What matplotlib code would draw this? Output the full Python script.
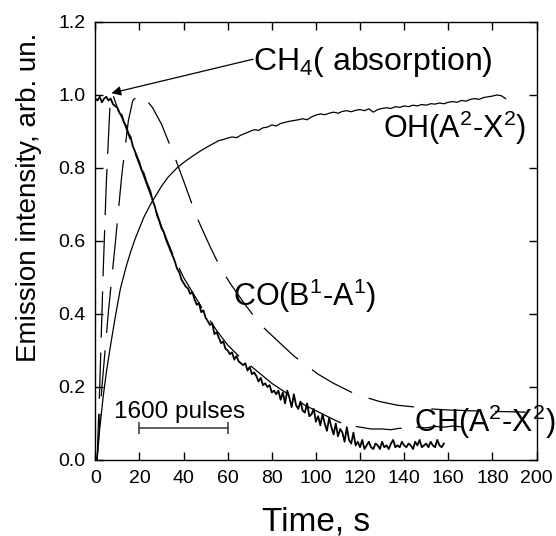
import numpy as np
import matplotlib
matplotlib.use("Agg")
import matplotlib.pyplot as plt

plt.rcParams['font.family'] = ['Liberation Sans', 'DejaVu Sans']
plt.rcParams['mathtext.fontset'] = 'custom'
plt.rcParams['mathtext.rm'] = 'Liberation Sans'
plt.rcParams['mathtext.it'] = 'Liberation Sans:italic'

# CH4 absorption, 1 s sampling from 0 to 158 s (noisy record)
ch4_t = np.arange(0, 159)
ch4_v = [0.99, 0.985, 0.995, 0.98, 0.99, 0.995, 0.985, 0.99, 0.975, 0.97,
         0.965, 0.95, 0.945, 0.925, 0.915, 0.895, 0.885, 0.86, 0.845, 0.83,
         0.815, 0.795, 0.785, 0.765, 0.75, 0.735, 0.71, 0.695, 0.67, 0.655,
         0.635, 0.625, 0.605, 0.59, 0.575, 0.56, 0.545, 0.525, 0.515, 0.495,
         0.485, 0.475, 0.47, 0.455, 0.46, 0.44, 0.425, 0.43, 0.405, 0.41,
         0.39, 0.38, 0.37, 0.375, 0.345, 0.35, 0.335, 0.32, 0.325, 0.305,
         0.30, 0.29, 0.295, 0.275, 0.285, 0.27, 0.265, 0.26, 0.265, 0.245,
         0.255, 0.235, 0.24, 0.23, 0.215, 0.225, 0.205, 0.21, 0.2, 0.205,
         0.185, 0.19, 0.18, 0.19, 0.165, 0.185, 0.155, 0.19, 0.17, 0.145,
         0.18, 0.15, 0.14, 0.16, 0.135, 0.13, 0.155, 0.12, 0.125, 0.14,
         0.105, 0.12, 0.095, 0.125, 0.1, 0.08, 0.115, 0.09, 0.07, 0.1,
         0.065, 0.085, 0.075, 0.05, 0.09, 0.055, 0.045, 0.075, 0.04, 0.05,
         0.035, 0.055, 0.03, 0.04, 0.05, 0.035, 0.03, 0.045, 0.04, 0.03,
         0.05, 0.035, 0.04, 0.03, 0.045, 0.055, 0.035, 0.04, 0.035, 0.05,
         0.04, 0.035, 0.045, 0.04, 0.03, 0.05, 0.04, 0.055, 0.035, 0.04,
         0.045, 0.035, 0.05, 0.04, 0.035, 0.055, 0.04, 0.035, 0.045]

# CH(A2-X2) emission
ch_t = [0.8, 2, 3.6, 5, 6.8, 8, 10, 13, 16, 19, 22.7, 26, 30, 35, 40, 45, 50, 55,
        60, 65, 70, 75, 80, 85, 90, 95, 100, 105, 110, 115, 120, 125, 130, 134,
        138, 142, 146, 150, 154, 158, 162, 166, 169]
ch_v = [0.0, 0.2, 0.52, 0.76, 0.99, 1.0, 0.965, 0.925, 0.875, 0.825, 0.765, 0.71,
        0.64, 0.565, 0.5, 0.45, 0.4, 0.355, 0.315, 0.285, 0.26, 0.235, 0.21, 0.19,
        0.17, 0.15, 0.135, 0.12, 0.105, 0.095, 0.09, 0.085, 0.085, 0.083, 0.087,
        0.085, 0.09, 0.088, 0.092, 0.09, 0.093, 0.091, 0.093]

# CO(B1-A1) emission
co_t = [0.8, 3, 6, 9, 12, 15, 17, 19.5, 22, 26, 30, 33, 36, 40, 46, 52, 56, 61,
        68, 75, 82, 90, 101, 108, 118, 129, 137, 145, 152, 160, 170, 180, 190, 195]
co_v = [0.0, 0.2, 0.41, 0.59, 0.78, 0.93, 0.985, 1.0, 0.995, 0.965, 0.92, 0.875,
        0.83, 0.765, 0.665, 0.585, 0.535, 0.485, 0.425, 0.37, 0.33, 0.285, 0.235,
        0.21, 0.18, 0.16, 0.15, 0.145, 0.14, 0.137, 0.135, 0.133, 0.132, 0.131]

# OH(A2-X2) emission
oh_t = [0.8, 2, 3.6, 5, 6.8, 9, 11.4, 14, 16, 18, 20, 22, 25, 28, 30, 33, 37, 40,
        44, 48, 52, 56, 58, 60, 62, 64, 66, 68, 70, 72, 74, 76, 78, 80, 82, 84,
        86, 88, 90, 92, 94, 96, 98, 100, 102, 104, 106, 108, 110, 112, 114, 116,
        118, 120, 122, 124, 126, 128, 130, 132, 134, 136, 138, 140, 142, 144,
        146, 148, 150, 152, 154, 156, 158, 160, 162, 164, 166, 168, 170, 172,
        174, 176, 178, 180, 182, 184, 186]
oh_v = [0.0, 0.085, 0.175, 0.24, 0.31, 0.39, 0.47, 0.53, 0.57, 0.605, 0.635,
        0.665, 0.70, 0.73, 0.75, 0.775, 0.80, 0.815, 0.832, 0.848, 0.862, 0.875,
        0.878, 0.882, 0.885, 0.883, 0.89, 0.895, 0.9, 0.905, 0.903, 0.91, 0.912,
        0.918, 0.915, 0.922, 0.925, 0.928, 0.93, 0.932, 0.935, 0.932, 0.94,
        0.945, 0.948, 0.946, 0.95, 0.953, 0.95, 0.955, 0.957, 0.954, 0.958,
        0.96, 0.957, 0.962, 0.953, 0.96, 0.963, 0.965, 0.963, 0.968, 0.966,
        0.97, 0.968, 0.972, 0.97, 0.974, 0.972, 0.976, 0.975, 0.978, 0.976,
        0.98, 0.982, 0.98, 0.985, 0.983, 0.988, 0.99, 0.988, 0.993, 0.995,
        0.997, 1.0, 0.998, 0.99]

pulse_bar = [20, 60]   # 1600 pulses scale bar, s

fig = plt.figure(figsize=(5.56, 5.36), dpi=100)
ax = fig.add_axes([0.1714, 0.1418, 0.7936, 0.8172])

ax.plot(ch4_t, ch4_v, color='black', lw=1.3)
ax.plot(ch_t, ch_v, color='black', lw=0.9, dashes=(37, 12))
ax.plot(co_t, co_v, color='black', lw=0.9, dashes=(37, 14))
ax.plot(oh_t, oh_v, color='black', lw=0.9)

# scale bar
ax.plot(pulse_bar, [0.088, 0.088], color='#444444', lw=1.2,
        marker='|', markersize=9, markeredgewidth=1.2)
ax.text(8.5, 0.115, '1600 pulses', fontsize=17.5, ha='left', va='baseline')

# labels on curves
ax.annotate('', xy=(7.3, 1.005), xytext=(71.5, 1.098),
            arrowprops=dict(arrowstyle='-|>', color='black', lw=0.9,
                            mutation_scale=14, shrinkA=0, shrinkB=0))
ax.text(71.7, 1.069, 'CH$_4$( absorption)', fontsize=23, ha='left', va='baseline')
ax.text(130.2, 0.881, 'OH(A$^2$-X$^2$)', fontsize=22, ha='left', va='baseline')
ax.text(62.6, 0.423, 'CO(B$^1$-A$^1$)', fontsize=22, ha='left', va='baseline')
ax.text(144.4, 0.076, 'CH(A$^2$-X$^2$)', fontsize=22, ha='left', va='baseline',
        clip_on=False)

ax.set_xlim(0, 200)
ax.set_ylim(0, 1.2)
ax.set_xticks(np.arange(0, 201, 20))
ax.set_yticks(np.arange(0, 1.21, 0.2))
ax.yaxis.set_major_formatter(matplotlib.ticker.FormatStrFormatter('%.1f'))
ax.tick_params(direction='in', top=True, right=True, length=6, width=1,
               labelsize=14, pad=7)
for s in ax.spines.values():
    s.set_linewidth(1)

ax.set_xlabel('Time, s', fontsize=24, labelpad=14)
ax.set_ylabel('Emission intensity, arb. un.', fontsize=20)
ax.yaxis.set_label_coords(-0.121, 0.60)

fig.savefig('out.png', dpi=100)
